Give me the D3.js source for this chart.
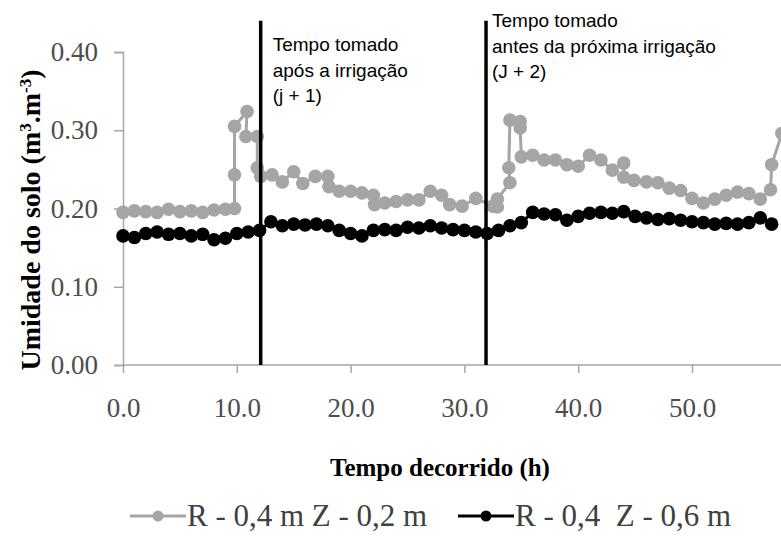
<!DOCTYPE html>
<html><head><meta charset="utf-8">
<script src="https://cdn.jsdelivr.net/npm/d3@7"></script>
<style>
html,body{margin:0;padding:0;background:#fff;}
svg{display:block;}
</style></head>
<body>
<svg id="chart" width="781" height="544"></svg>
<script>
// ---- data ----
const xTicks = [0, 10, 20, 30, 40, 50];
const yTicks = [0, 0.10, 0.20, 0.30, 0.40];

// Series 1: R - 0,4 m Z - 0,2 m (grey)
const greyTime = [0,1,2,3,4,5,6,7,8,9,9.8,9.8,9.8,10.9,10.8,11.8,11.8,12.1,13.1,14,15,15.8,16.9,18,18.1,19,20,21,22,22.1,23,24,25,26,27,28,28.7,29.8,31,32.5,32.9,32.9,34.0,33.9,34.0,34.9,34.9,35.0,36,37,38,39,40,41,42,43,44,44,44.9,46,47,48,49,50,51,52,53,54,55,56,56.9,57,57.9];
const greyValue = [0.195,0.197,0.196,0.195,0.199,0.196,0.197,0.195,0.198,0.199,0.200,0.243,0.305,0.324,0.292,0.292,0.252,0.241,0.243,0.234,0.247,0.232,0.241,0.241,0.228,0.222,0.222,0.220,0.217,0.205,0.207,0.209,0.211,0.211,0.222,0.217,0.205,0.203,0.213,0.203,0.202,0.212,0.233,0.252,0.313,0.311,0.303,0.266,0.268,0.262,0.262,0.256,0.254,0.268,0.262,0.249,0.258,0.240,0.236,0.234,0.233,0.226,0.223,0.213,0.207,0.212,0.217,0.221,0.219,0.212,0.224,0.256,0.296];

// Series 2: R - 0,4  Z - 0,6 m (black)
const blackTime = [0,1,2,3,4,5,6,7,8,9,10,11,12,13,14,15,16,17,18,19,20,21,22,23,24,25,26,27,28,29,30,31,32,33,34,35,36,37,38,39,40,41,42,43,44,45,46,47,48,49,50,51,52,53,54,55,56,57];
const blackValue = [0.165,0.163,0.168,0.170,0.167,0.168,0.165,0.167,0.160,0.162,0.168,0.170,0.172,0.183,0.178,0.180,0.179,0.180,0.178,0.172,0.168,0.165,0.172,0.173,0.172,0.176,0.175,0.178,0.175,0.173,0.172,0.170,0.168,0.172,0.178,0.182,0.195,0.193,0.192,0.185,0.190,0.194,0.195,0.194,0.196,0.190,0.188,0.186,0.187,0.185,0.183,0.182,0.180,0.181,0.180,0.182,0.188,0.180];

const markerTimes = [12.1, 31.9];
const markerTop = 0.44;
const note1 = ["Tempo tomado", "após a irrigação", "(j + 1)"];
const note2 = ["Tempo tomado", "antes da próxima irrigação", "(J + 2)"];
const seriesNames = ["R - 0,4 m Z - 0,2 m", "R - 0,4  Z - 0,6 m"];
const seriesColors = ["#a5a5a5", "#000000"];
const xTitle = "Tempo decorrido (h)";

// ---- scales ----
const svg = d3.select("#chart");
const x = d3.scaleLinear().domain([0, 58]).range([123, 123 + 58 * 11.38]);
const y = d3.scaleLinear().domain([0, 0.40]).range([365, 52]);

const serif = "Liberation Serif, Times New Roman, serif";

// axes
const xAxis = svg.append("g").attr("transform", "translate(0,365)")
  .call(d3.axisBottom(x).tickValues(xTicks).tickSize(8).tickPadding(10).tickFormat(d3.format(".1f")));
xAxis.select(".domain").attr("d", `M${x(0)},0H781`);
const yAxis = svg.append("g").attr("transform", "translate(123,0)")
  .call(d3.axisLeft(y).tickValues(yTicks).tickSize(9).tickPadding(16).tickFormat(d3.format(".2f")));
[xAxis, yAxis].forEach(a => {
  a.attr("font-family", serif).attr("font-size", 27);
  a.select(".domain").attr("stroke", "#a6a6a6").attr("stroke-width", 1.5);
  a.selectAll(".tick line").attr("stroke", "#a6a6a6").attr("stroke-width", 1.5);
  a.selectAll(".tick text").attr("fill", "#4d4d4d").attr("font-family", serif).attr("font-size", 27);
});
xAxis.selectAll(".tick text").attr("dy", "1.25em");

// series
function drawSeries(times, values, color) {
  const pts = times.map((t, i) => [t, values[i]]);
  const line = d3.line().x(d => x(d[0])).y(d => y(d[1]));
  svg.append("path").datum(pts).attr("d", line).attr("fill", "none")
    .attr("stroke", color).attr("stroke-width", 3);
  svg.append("g").selectAll("circle").data(pts).join("circle")
    .attr("cx", d => x(d[0])).attr("cy", d => y(d[1])).attr("r", 6.8).attr("fill", color);
}
drawSeries(greyTime, greyValue, seriesColors[0]);
drawSeries(blackTime, blackValue, seriesColors[1]);

// vertical marker lines
svg.append("g").selectAll("line").data(markerTimes).join("line")
  .attr("x1", d => x(d)).attr("x2", d => x(d))
  .attr("y1", y(markerTop)).attr("y2", y(0))
  .attr("stroke", "#000").attr("stroke-width", 3.5);

// notes
const sans = "Liberation Sans, Arial, sans-serif";
function note(lines, x0, y0) {
  svg.append("g").selectAll("text").data(lines).join("text")
    .attr("x", x0).attr("y", (d, i) => y0 + i * 25.5)
    .attr("font-family", sans).attr("font-size", 19).attr("fill", "#000")
    .text(d => d);
}
note(note1, x(markerTimes[0]) + 12, 51);
note(note2, x(markerTimes[1]) + 6, 27);

// axis titles
svg.append("text").attr("x", 440).attr("y", 476).attr("text-anchor", "middle")
  .attr("font-family", serif).attr("font-size", 25).attr("font-weight", "bold")
  .text(xTitle);
const yt = svg.append("text").attr("transform", "translate(40,220) rotate(-90)")
  .attr("text-anchor", "middle")
  .attr("font-family", serif).attr("font-size", 28).attr("font-weight", "bold");
yt.append("tspan").text("Umidade do solo (m");
yt.append("tspan").attr("baseline-shift", "super").attr("font-size", 17).text("3");
yt.append("tspan").text(".m");
yt.append("tspan").attr("baseline-shift", "super").attr("font-size", 17).text("-3");
yt.append("tspan").text(")");

// legend
const legendX = [130, 458];
const lg = svg.append("g").selectAll("g").data(seriesNames).join("g")
  .attr("transform", (d, i) => `translate(${legendX[i]},516)`);
lg.append("line").attr("x1", 0).attr("x2", 56).attr("y1", 0).attr("y2", 0)
  .attr("stroke", (d, i) => seriesColors[i]).attr("stroke-width", 3);
lg.append("circle").attr("cx", 28).attr("cy", 0).attr("r", 5.5).attr("fill", (d, i) => seriesColors[i]);
lg.append("text").attr("x", 57).attr("y", 10)
  .attr("font-family", serif).attr("font-size", 31).attr("fill", "#404040")
  .attr("xml:space", "preserve")
  .text(d => d);
</script>
</body></html>
